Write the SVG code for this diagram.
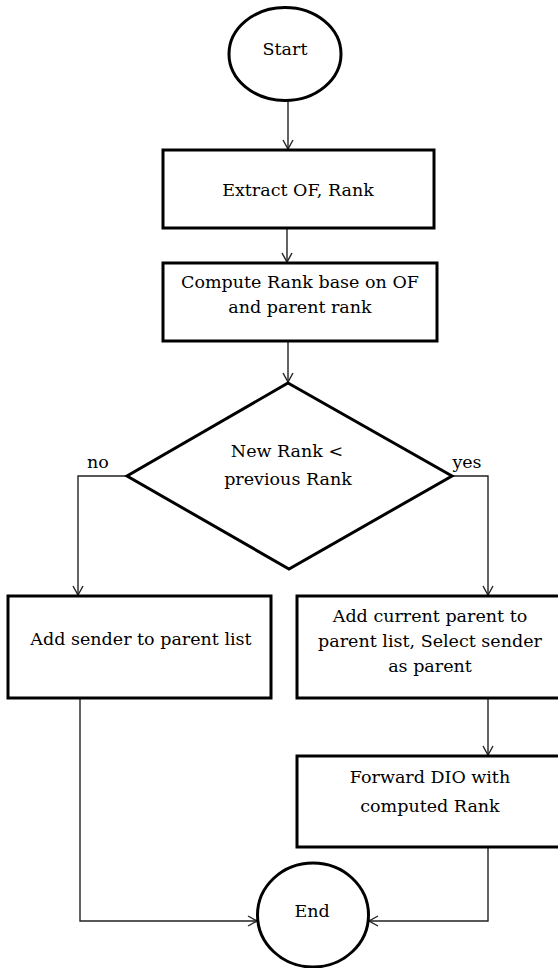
<svg xmlns="http://www.w3.org/2000/svg" width="558" height="968" viewBox="0 0 558 968">
<style>
.shape{fill:#fff;stroke:#000;stroke-width:3}
.conn{fill:none;stroke:#222;stroke-width:1.4}
text{font-family:"DejaVu Serif","Liberation Serif",serif;font-size:17.5px;fill:#000;text-anchor:middle}
</style>
<defs>
<marker id="arr" markerUnits="userSpaceOnUse" markerWidth="14" markerHeight="14" viewBox="0 0 14 14" refX="12" refY="7" orient="auto">
<path d="M3,2 L12,7 L3,12" fill="none" stroke="#222" stroke-width="1.4"/>
</marker>
</defs>
<rect width="558" height="968" fill="#fff"/>
<g id="connectors">
<line class="conn" x1="288" y1="100" x2="288" y2="149" marker-end="url(#arr)"/>
<line class="conn" x1="287" y1="228" x2="287" y2="262" marker-end="url(#arr)"/>
<line class="conn" x1="288" y1="341" x2="288" y2="382" marker-end="url(#arr)"/>
<polyline class="conn" points="127,476 78,476 78,595" marker-end="url(#arr)"/>
<polyline class="conn" points="452,476 488,476 488,595" marker-end="url(#arr)"/>
<line class="conn" x1="488" y1="698" x2="488" y2="755" marker-end="url(#arr)"/>
<polyline class="conn" points="80,698 80,921 257,921" marker-end="url(#arr)"/>
<polyline class="conn" points="488,848 488,921 369,921" marker-end="url(#arr)"/>
<text x="98" y="468">no</text>
<text x="467" y="468">yes</text>
</g>
<g id="start">
<ellipse class="shape" cx="285" cy="54" rx="56" ry="46.5"/>
<text x="285" y="55">Start</text>
</g>
<g id="extract">
<rect class="shape" x="163" y="150" width="271" height="78"/>
<text x="298" y="196">Extract OF, Rank</text>
</g>
<g id="compute">
<rect class="shape" x="163" y="263" width="274" height="78"/>
<text x="300" y="288">Compute Rank base on OF</text>
<text x="300" y="313">and parent rank</text>
</g>
<g id="decision">
<polygon class="shape" points="288,383 452,476 289,569 127,476"/>
<text x="287" y="457">New Rank &lt;</text>
<text x="288" y="485">previous Rank</text>
</g>
<g id="addsender">
<rect class="shape" x="8" y="596" width="263" height="102"/>
<text x="141" y="645">Add sender to parent list</text>
</g>
<g id="addcurrent">
<rect class="shape" x="297" y="596" width="265" height="102"/>
<text x="430" y="622">Add current parent to</text>
<text x="430" y="647">parent list, Select sender</text>
<text x="430" y="672">as parent</text>
</g>
<g id="forward">
<rect class="shape" x="297" y="756" width="265" height="91"/>
<text x="430" y="783">Forward DIO with</text>
<text x="430" y="812">computed Rank</text>
</g>
<g id="end">
<ellipse class="shape" cx="313" cy="915" rx="55.5" ry="52"/>
<text x="312" y="917">End</text>
</g>
</svg>
